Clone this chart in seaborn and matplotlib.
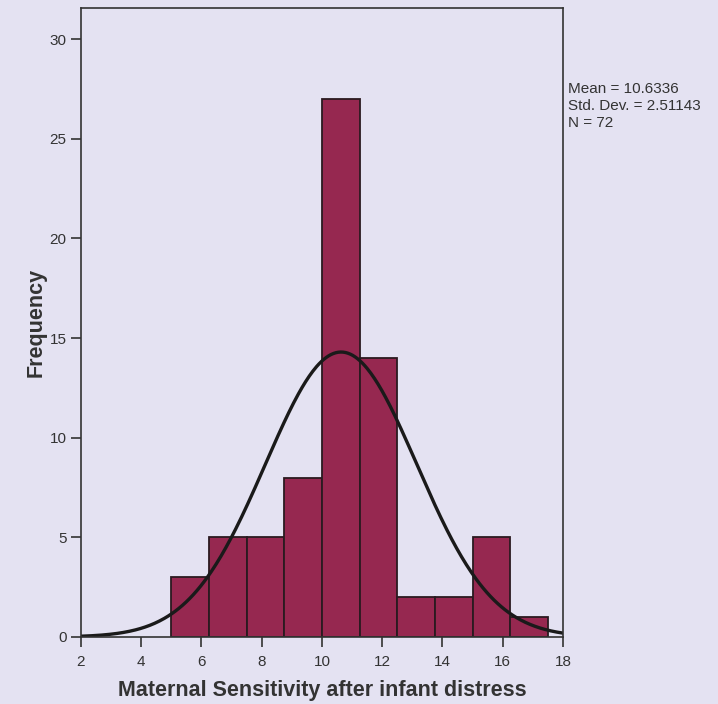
import numpy as np
import matplotlib
matplotlib.use("Agg")
import matplotlib.pyplot as plt
import seaborn as sns

# histogram bins (width 1.25)
bin_edges = [5.0, 6.25, 7.5, 8.75, 10.0, 11.25, 12.5, 13.75, 15.0, 16.25, 17.5]
counts = [3, 5, 5, 8, 27, 14, 2, 2, 5, 1]
mean_val = 10.6336
std_val = 2.51143
n_val = 72

x_ticks = [2, 4, 6, 8, 10, 12, 14, 16, 18]
y_ticks = [0, 5, 10, 15, 20, 25, 30]

bg = "#e4e2f2"
bar_color = "#962850"

sns.set_style("ticks")
plt.rcParams['font.family'] = ['Liberation Sans', 'DejaVu Sans']

fig = plt.figure(figsize=(7.18, 7.04), dpi=100, facecolor=bg)
ax = fig.add_axes([0.1128, 0.0952, 0.6713, 0.8935])
ax.set_facecolor(bg)

centers = [(bin_edges[i] + bin_edges[i + 1]) / 2 for i in range(len(counts))]
sns.histplot(x=centers, weights=counts, bins=bin_edges, ax=ax,
             color=bar_color, alpha=1.0, edgecolor="#2a1a20", linewidth=1.3)

# fitted normal curve
xs = np.linspace(2, 18, 400)
width = bin_edges[1] - bin_edges[0]
ys = n_val * width / (std_val * np.sqrt(2 * np.pi)) * np.exp(-0.5 * ((xs - mean_val) / std_val) ** 2)
sns.lineplot(x=xs, y=ys, ax=ax, color="#1a1a1a", linewidth=2.4)

ax.set_xlim(2, 18)
ax.set_ylim(0, 31.56)
ax.set_xticks(x_ticks)
ax.set_yticks(y_ticks)
ax.tick_params(axis='both', direction='out', length=7, width=1.2, labelsize=11,
               colors="#333333", labelcolor="#333333")
ax.tick_params(axis='x', pad=6)
for s in ax.spines.values():
    s.set_color("#333333")
    s.set_linewidth(1.2)

ax.set_xlabel("Maternal Sensitivity after infant distress", fontsize=15.5,
              fontweight='bold', color="#333333", labelpad=8)
ax.set_ylabel("Frequency", fontsize=15.5, fontweight='bold', color="#333333", labelpad=2)

fig.text(0.791, 0.884, "Mean = %.4f\nStd. Dev. = %.5f\nN = %d" % (mean_val, std_val, n_val),
         fontsize=11, color="#333333", va='top', ha='left', linespacing=1.3)

fig.savefig("out.png", dpi=100, facecolor=bg)
